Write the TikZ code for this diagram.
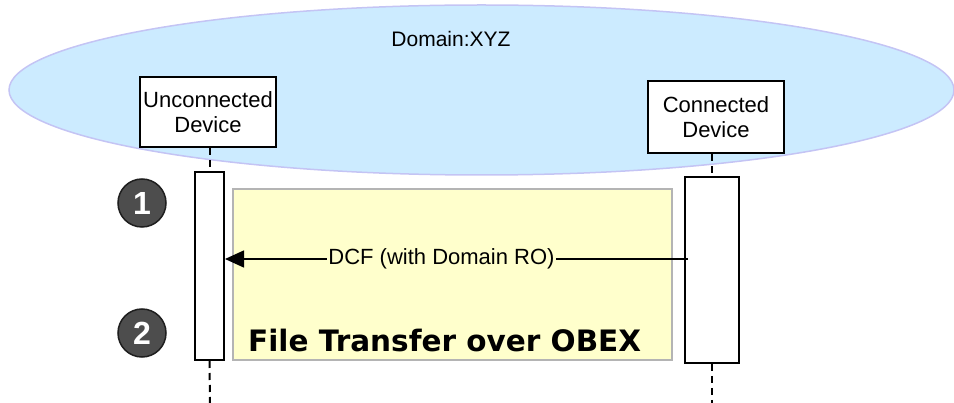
\documentclass[tikz,border=0pt]{standalone}
\usepackage{fontspec}
\setmainfont{Liberation Sans}
\newfontfamily\verdfont{DejaVu Sans}
\usetikzlibrary{arrows.meta}
\definecolor{domfill}{HTML}{CCEBFF}
\definecolor{domline}{HTML}{C4C4F4}
\definecolor{notefill}{HTML}{FFFFCC}
\definecolor{noteline}{HTML}{B4B4B4}
\definecolor{stepfill}{HTML}{4D4D4D}
\definecolor{stepline}{HTML}{1E1E1E}
\tikzset{
  devbox/.style={draw=black, line width=2pt, fill=white, inner sep=0pt, align=center,
    font=\fontsize{22}{25}\selectfont},
  actbox/.style={draw=black, line width=2pt, fill=white, inner sep=0pt},
  life/.style={line width=2pt, dash pattern=on 7pt off 5pt},
  note/.style={draw=noteline, line width=2pt, fill=notefill, inner sep=0pt},
  stepcirc/.style={circle, draw=stepline, line width=1.5pt, fill=stepfill, minimum size=48pt,
    inner sep=0pt, text=white, font=\fontsize{32}{32}\selectfont\bfseries},
  msg/.style={line width=1.5pt, -{Triangle[length=19pt,width=17pt]}},
  msglabel/.style={fill=notefill, inner sep=1.5pt, font=\fontsize{22}{25}\selectfont}
}
\begin{document}
\begin{tikzpicture}[x=1pt,y=-1pt]
\useasboundingbox (0,0) rectangle (954,403);
% domain
\draw[fill=domfill, draw=domline, line width=1.5pt] (481.5,90) ellipse [x radius=472.5, y radius=85];
\node[anchor=base, font=\fontsize{21}{25}\selectfont, inner sep=0pt] (dom) at (451,47) {Domain:XYZ};
% devices
\node[devbox, minimum width=136pt, minimum height=70pt] (ud) at (208,112) {Unconnected\\Device};
\node[devbox, minimum width=136pt, minimum height=72pt] (cd) at (716,117) {Connected\\Device};
% note
\node[note, minimum width=439pt, minimum height=171pt] (nt) at (452.5,274.5) {};
\node[anchor=base west, inner sep=0pt, font=\verdfont\bfseries\fontsize{29.5}{30}\selectfont] (ft) at (248,352) {File Transfer over OBEX};
% activations
\node[actbox, minimum width=29pt, minimum height=188pt] (ua) at (209.5,266) {};
\node[actbox, minimum width=54pt, minimum height=186pt] (ca) at (712,270) {};
\coordinate (uend) at (210,403);
\coordinate (cend) at (712,403);
\draw[life] (ua.north |- ud.south) -- (ua.north);
\draw[life] (ua.south) -- (uend);
\draw[life] (ca.north |- cd.south) -- (ca.north);
\draw[life] (ca.south) -- (cend);
% message
\coordinate (msgstart) at (688,259);
\draw[msg] (msgstart) -- (ua.east |- msgstart);
\node[msglabel] (ml) at (441.5,259) {DCF (with Domain RO)};
% steps
\node[stepcirc] (s1) at (142,203) {1};
\node[stepcirc] (s2) at (142,333) {2};
\end{tikzpicture}
\end{document}
